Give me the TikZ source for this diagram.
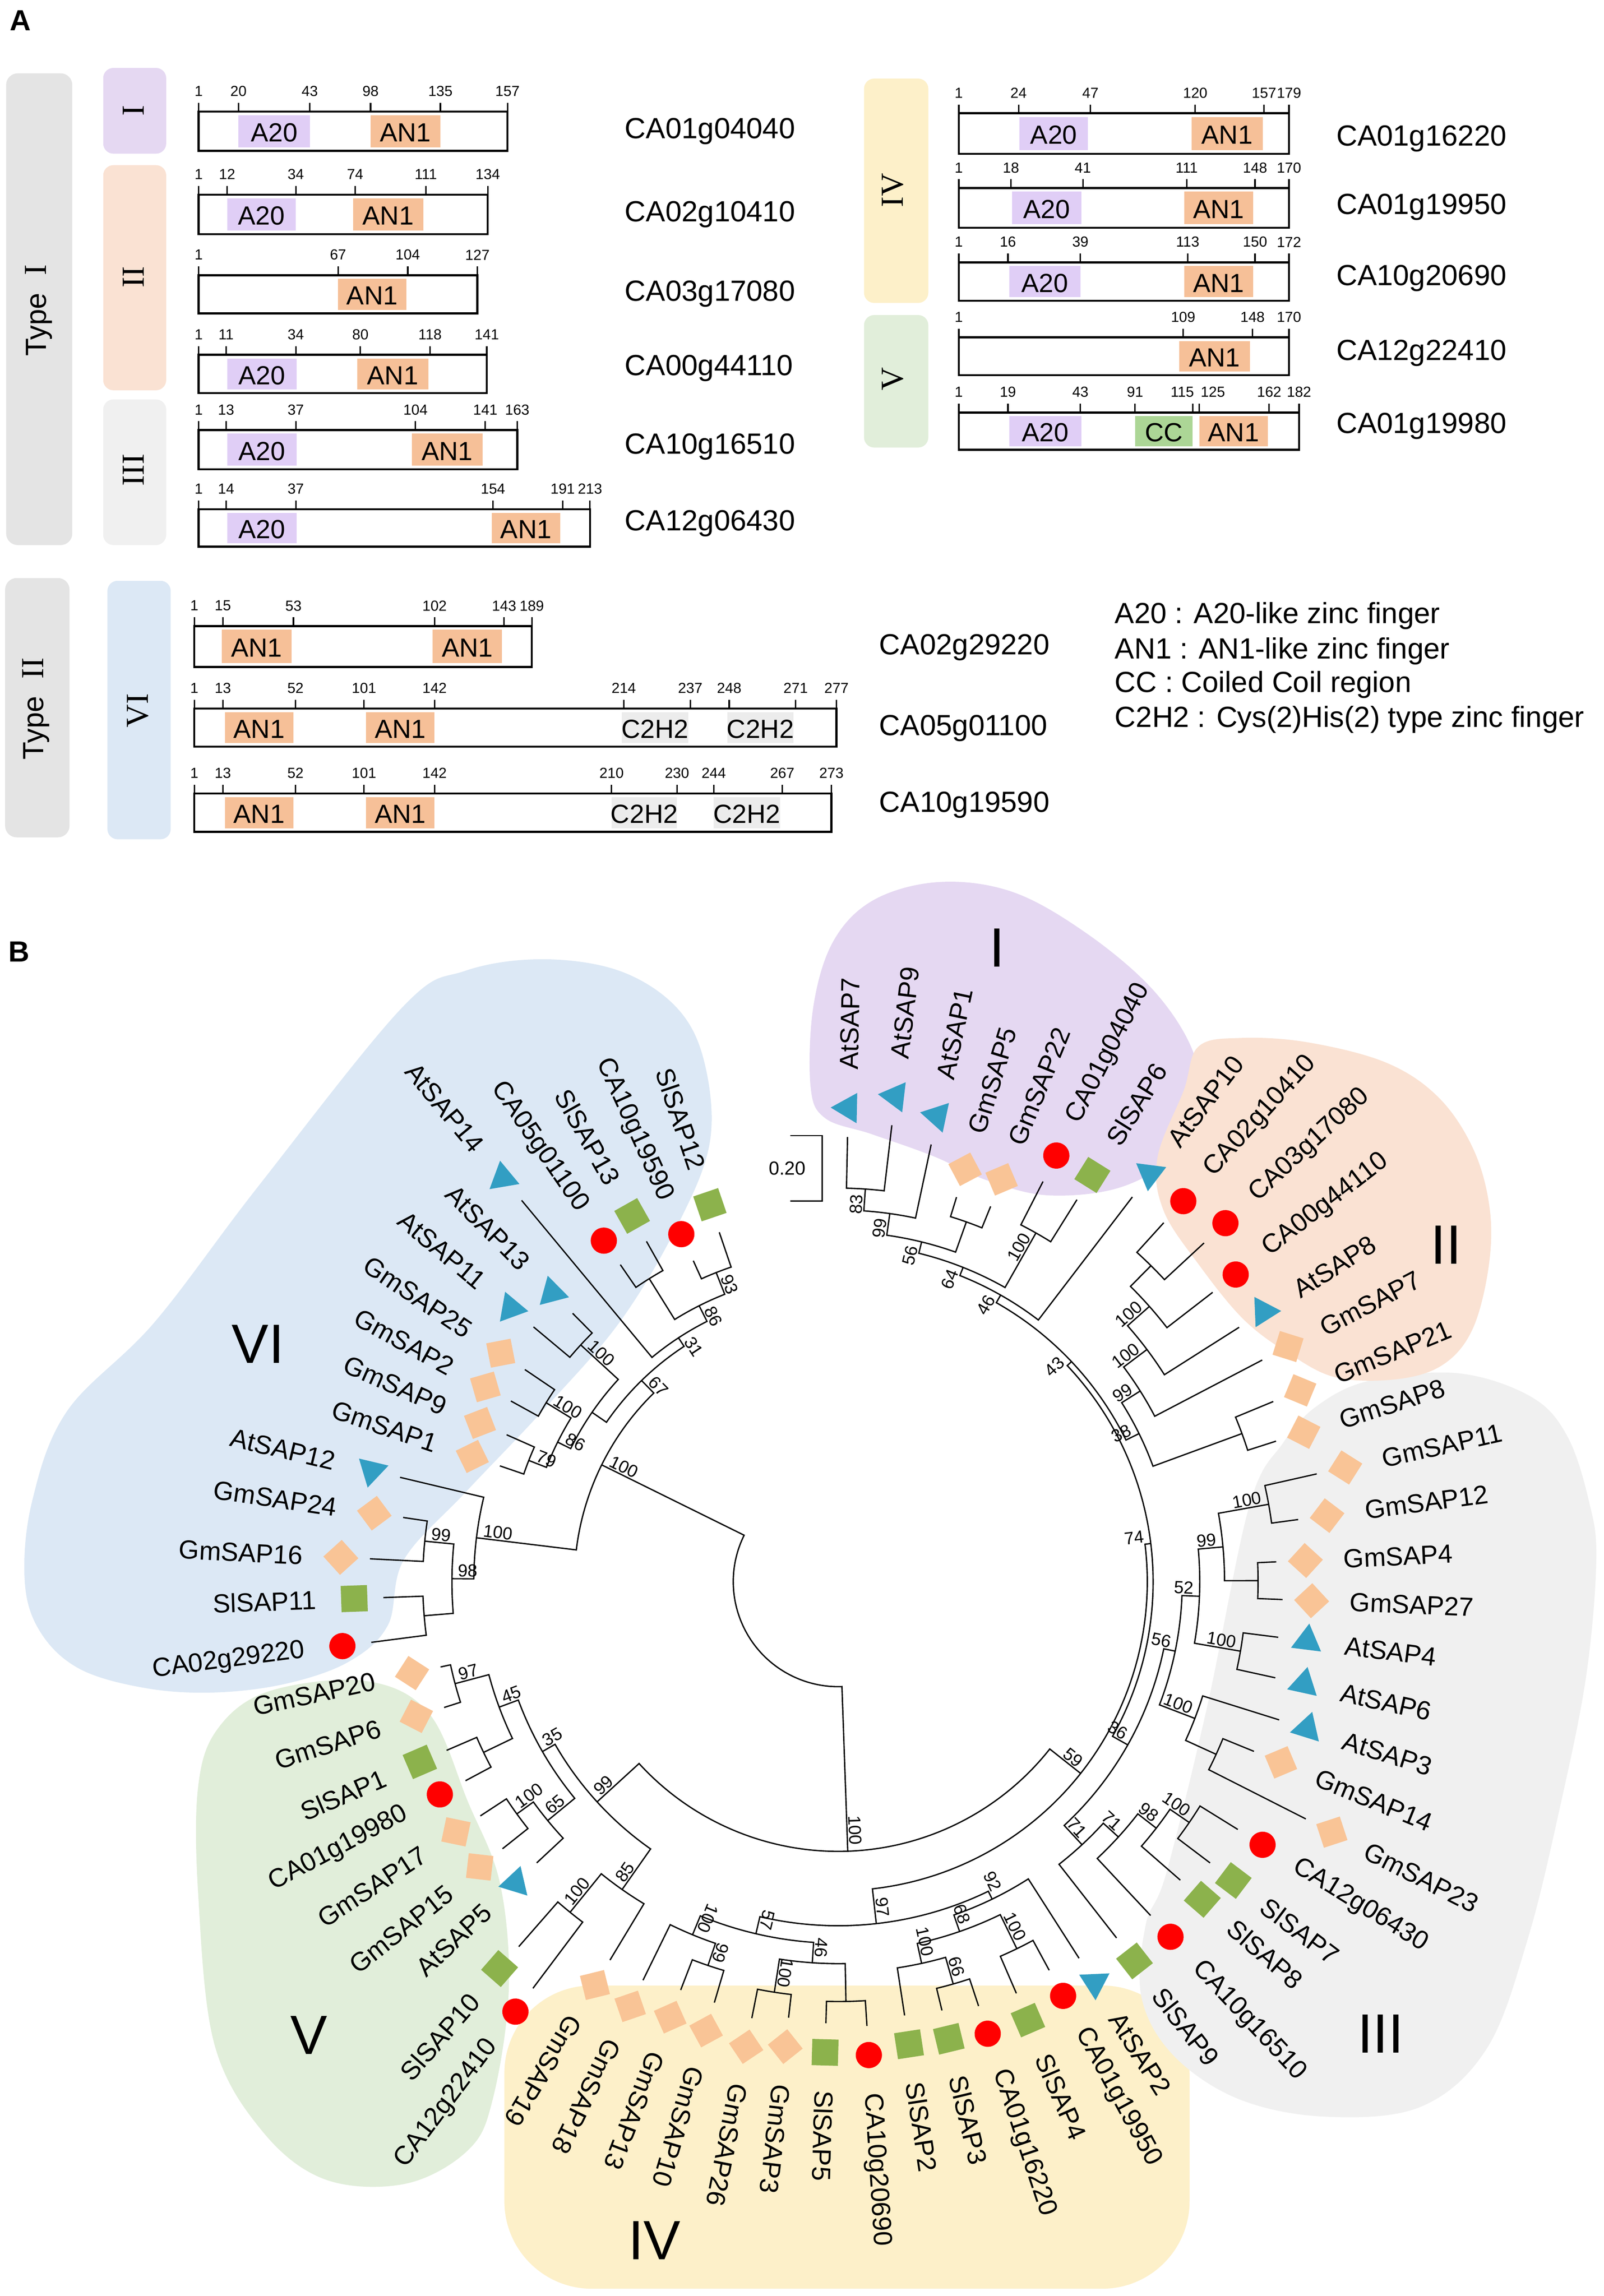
\documentclass[tikz,border=0pt]{standalone}
\usepackage{fontspec}
\setmainfont{Liberation Sans}
\newfontfamily\romnum{Liberation Serif}
\usetikzlibrary{shapes.geometric}

\definecolor{typegray}{RGB}{228,228,228}
\definecolor{grpI}{RGB}{229,216,242}
\definecolor{grpII}{RGB}{250,226,211}
\definecolor{grpIII}{RGB}{240,240,240}
\definecolor{grpIV}{RGB}{253,240,201}
\definecolor{grpV}{RGB}{225,238,218}
\definecolor{grpVI}{RGB}{220,232,245}
\definecolor{colA20}{RGB}{224,206,246}
\definecolor{colAN1}{RGB}{246,192,152}
\definecolor{colCC}{RGB}{172,214,150}
\definecolor{colCzH}{RGB}{236,236,236}
\definecolor{mkred}{RGB}{255,0,0}
\definecolor{mkgreen}{RGB}{140,178,76}
\definecolor{mkpeach}{RGB}{249,196,150}
\definecolor{mkteal}{RGB}{50,158,195}

\tikzset{
  typebar/.style={fill=typegray, rounded corners=8pt},
  typelab/.style={font=\fontsize{20}{22}\selectfont, rotate=90},
  protbox/.style={draw, line width=1.4pt},
  tickline/.style={line width=1pt},
  ticklab/.style={font=\fontsize{10}{11}\selectfont, inner sep=0pt},
  genename/.style={font=\fontsize{20}{22}\selectfont, anchor=west, inner sep=0pt},
  domlab/.style={font=\fontsize{18}{20}\selectfont, inner sep=0pt},
  grplab/.style={font=\romnum\fontsize{22}{24}\selectfont, rotate=90},
  legendtxt/.style={font=\fontsize{20}{22}\selectfont, anchor=west, inner sep=0pt},
  panel/.style={font=\bfseries\fontsize{20}{22}\selectfont},
  branch/.style={line width=0.9pt},
  leaflab/.style={font=\fontsize{18}{20}\selectfont, inner sep=2pt},
  bootlab/.style={font=\fontsize{12}{13}\selectfont, inner sep=1pt},
  cladelab/.style={font=\fontsize{38}{40}\selectfont},
  mkca/.style={circle, fill=mkred, minimum size=18pt, inner sep=0pt},
  mksl/.style={rectangle, fill=mkgreen, minimum size=18pt, inner sep=0pt},
  mkgm/.style={rectangle, fill=mkpeach, minimum size=17pt, inner sep=0pt, rotate=45},
  mkat/.style={regular polygon, regular polygon sides=3, fill=mkteal, minimum size=24pt, inner sep=0pt},
}

% panel A helpers
\newcommand\domain[6]{%
  \fill[#1] (#2,#4+2.5) rectangle (#3,#5-2.5);
  \node[domlab] at ({(#2+#3)/2},{(#4+#5)/2+1}) {#6};}
\newcommand\protein[5]{%
  \foreach \tx/\tl in {#5}{%
    \draw[tickline] (\tx,#3) -- (\tx,#3-6);
    \node[ticklab] at (\tx,#3-14) {\tl};}
  \draw[protbox] (#1,#3) rectangle (#2,#4);}

% panel B helpers
\newcommand\leaf[4]{%
  \expandafter\xdef\csname tang#1\endcsname{#2}%
  \pgfmathsetmacro\tR{#3-20}%
  \expandafter\xdef\csname trad#1\endcsname{\tR}%
  \pgfmathsetmacro\tL{#3+24}%
  \node[mk#4, rotate=#2] (#1) at (#2:#3) {};
  \ifdim #2pt<-124pt
    \pgfmathsetmacro\tF{#2+180}%
    \node[leaflab, anchor=east, rotate=\tF] (#1-t) at (#2:\tL) {#1};
  \else
    \node[leaflab, anchor=west, rotate=#2] (#1-t) at (#2:\tL) {#1};
  \fi}
\newcommand\clade[5]{%
  \edef\tA{\csname tang#3\endcsname}%
  \edef\tB{\csname tang#4\endcsname}%
  \edef\rA{\csname trad#3\endcsname}%
  \edef\rB{\csname trad#4\endcsname}%
  \pgfmathsetmacro\tM{(\tA+\tB)/2}%
  \expandafter\xdef\csname tang#1\endcsname{\tM}%
  \expandafter\xdef\csname trad#1\endcsname{#2}%
  \draw[branch] (\tA:\rA) -- (\tA:#2) arc[start angle=\tA, end angle=\tB, radius=#2] -- (\tB:\rB);
  \coordinate (#1) at (\tM:#2);
  \ifx\relax#5\relax\else
    \pgfmathsetmacro\tS{#2-3}%
    \ifdim \tM pt<-124pt
      \pgfmathsetmacro\tF{\tM+180}%
      \node[bootlab, anchor=south west, rotate=\tF] at (\tM:\tS) {#5};
    \else
      \node[bootlab, anchor=south east, rotate=\tM] at (\tM:\tS) {#5};
    \fi
  \fi}

\begin{document}
\begin{tikzpicture}[x=1pt, y=-1pt]
\useasboundingbox (0,0) rectangle (1100,1575);
\fill[white] (0,0) rectangle (1100,1575);

% ---------------- panel A
\node[panel] (lblA) at (14,14) {A};

\fill[typebar] (4.2,50.3) rectangle (49.6,373.9);
\node[typelab] (typeI) at (26.6,213) {Type\hspace{12pt}{\romnum\fontsize{22}{24}\selectfont I}};
\fill[typebar] (3.5,396.5) rectangle (47.7,574.4);
\node[typelab] (typeII) at (24.6,486) {Type\hspace{12pt}{\romnum\fontsize{22}{24}\selectfont II}};

\fill[grpI, rounded corners=7pt] (70.8,46.6) rectangle (114,105.4);
\node[grplab] (gI) at (91.4,76) {I};
\fill[grpII, rounded corners=7pt] (70.8,113.3) rectangle (114,267.7);
\node[grplab] (gII) at (91.4,190) {II};
\fill[grpIII, rounded corners=7pt] (70.8,274) rectangle (114,373.9);
\node[grplab] (gIII) at (91.4,322.4) {III};
\fill[grpIV, rounded corners=7pt] (592.7,53.9) rectangle (636.8,207.8);
\node[grplab] (gIV) at (612.5,130.5) {IV};
\fill[grpV, rounded corners=7pt] (592.7,216.1) rectangle (636.8,307);
\node[grplab] (gV) at (612.5,260) {V};
\fill[grpVI, rounded corners=7pt] (73.7,398.4) rectangle (117.1,575.7);
\node[grplab] (gVI) at (94.7,487.4) {VI};

\domain{colA20}{163.6}{212.5}{76.5}{103.5}{A20}
\domain{colAN1}{254.2}{302.1}{76.5}{103.5}{AN1}
\protein{136.3}{348.1}{76.5}{103.5}{136.3/1, 163.6/20, 212.5/43, 254.2/98, 302.1/135, 348.1/157}
\node[genename] (p1) at (428.5,90) {CA01g04040};

\domain{colA20}{155.8}{202.9}{133.6}{160.6}{A20}
\domain{colAN1}{242.2}{290.4}{133.6}{160.6}{AN1}
\protein{136.3}{334.6}{133.6}{160.6}{136.3/1, 155.8/12, 202.9/34, 243.6/74, 292.1/111, 334.6/134}
\node[genename] (p2) at (428.5,147) {CA02g10410};

\domain{colAN1}{231.9}{278.7}{188.8}{215}{AN1}
\protein{136.3}{327.5}{188.8}{215}{136.3/1, 231.9/67, 279.7/104, 327.5/127}
\node[genename] (p3) at (428.5,201.5) {CA03g17080};

\domain{colA20}{155.8}{203.6}{243.4}{269.7}{A20}
\domain{colAN1}{245}{293.9}{243.4}{269.7}{AN1}
\protein{136.3}{333.9}{243.4}{269.7}{136.3/1, 155.1/11, 202.9/34, 247.2/80, 295/118, 333.9/141}
\node[genename] (p4) at (428.5,252.5) {CA00g44110};

\domain{colA20}{155.8}{203.6}{295}{322}{A20}
\domain{colAN1}{282.6}{331.1}{295}{322}{AN1}
\protein{136.3}{354.8}{295}{322}{136.3/1, 155.1/13, 202.9/37, 285/104, 332.9/141, 354.8/163}
\node[genename] (p5) at (428.5,306.4) {CA10g16510};

\domain{colA20}{155.8}{203.6}{349.3}{375}{A20}
\domain{colAN1}{337.5}{384.2}{349.3}{375}{AN1}
\protein{136.3}{404.7}{349.3}{375}{136.3/1, 155.1/14, 202.9/37, 338.2/154, 386/191, 404.7/213}
\node[genename] (p6) at (428.5,359) {CA12g06430};

\domain{colA20}{699.4}{746.3}{77.7}{105.5}{A20}
\domain{colAN1}{817.5}{866.1}{77.7}{105.5}{AN1}
\protein{657.7}{884.2}{77.7}{105.5}{657.7/1, 698.7/24, 748/47, 819.9/120, 867.1/157, 884.2/179}
\node[genename] (p7) at (916.5,95) {CA01g16220};

\domain{colA20}{694.2}{741.8}{129}{156.2}{A20}
\domain{colAN1}{812.3}{859.5}{129}{156.2}{AN1}
\protein{657.7}{884.2}{129}{156.2}{657.7/1, 693.5/18, 742.8/41, 814/111, 860.9/148, 884.2/170}
\node[genename] (p8) at (916.5,142) {CA01g19950};

\domain{colA20}{692.4}{741.1}{180}{206.3}{A20}
\domain{colAN1}{812.3}{859.5}{180}{206.3}{AN1}
\protein{657.7}{884.2}{180}{206.3}{657.7/1, 691.4/16, 741.1/39, 814.7/113, 860.9/150, 884.2/172}
\node[genename] (p9) at (916.5,191) {CA10g20690};

\domain{colAN1}{808.8}{857.4}{231.4}{257.3}{AN1}
\protein{657.7}{884.2}{231.4}{257.3}{657.7/1, 811.6/109, 859.2/148, 884.2/170}
\node[genename] (p10) at (916.5,242.2) {CA12g22410};

\domain{colA20}{692.4}{741.8}{283}{308.6}{A20}
\domain{colCC}{778.6}{818.2}{283}{308.6}{CC}
\domain{colAN1}{822.7}{869.6}{283}{308.6}{AN1}
\protein{657.7}{891.1}{283}{308.6}{657.7/1, 691.4/19, 741.1/43, 778.6/91, 818.2/{}, 822.7/{}, 870.6/162, 891.1/182}
\node[ticklab] (t115) at (811,269) {115};
\node[ticklab] (t125) at (832,269) {125};
\node[genename] (p11) at (916.5,292.4) {CA01g19980};

\domain{colAN1}{152.2}{199.9}{429.5}{457.5}{AN1}
\domain{colAN1}{296.7}{344.4}{429.5}{457.5}{AN1}
\protein{133.3}{364.8}{429.5}{457.5}{133.3/1, 152.9/15, 201.3/53, 298.1/102, 345.8/143, 364.8/189}
\node[genename] (p12) at (603,444) {CA02g29220};

\domain{colAN1}{154.3}{201.3}{486.1}{512.2}{AN1}
\domain{colAN1}{251.1}{298.1}{486.1}{512.2}{AN1}
\domain{colCzH}{426.5}{472.1}{486.1}{512.2}{C2H2}
\domain{colCzH}{498.8}{544.4}{486.1}{512.2}{C2H2}
\protein{133.3}{573.8}{486.1}{512.2}{133.3/1, 152.9/13, 202.7/52, 249.7/101, 298.1/142, 427.9/214, 473.5/237, 500.2/248, 545.8/271, 573.8/277}
\node[genename] (p13) at (603,499.4) {CA05g01100};

\domain{colAN1}{154.3}{201.3}{544.3}{570.6}{AN1}
\domain{colAN1}{251.1}{298.1}{544.3}{570.6}{AN1}
\domain{colCzH}{419.5}{464.4}{544.3}{570.6}{C2H2}
\domain{colCzH}{489.6}{535.2}{544.3}{570.6}{C2H2}
\protein{133.3}{570.3}{544.3}{570.6}{133.3/1, 152.9/13, 202.7/52, 249.7/101, 298.1/142, 419.5/210, 464.4/230, 489.6/244, 536.6/267, 570.3/273}
\node[genename] (p14) at (603,552.2) {CA10g19590};

\node[legendtxt] (leg1) at (764.6,422.5) {A20 : A20-like zinc finger};
\node[legendtxt] (leg2) at (764.6,446.7) {AN1 : AN1-like zinc finger};
\node[legendtxt] (leg3) at (764.6,469.6) {CC : Coiled Coil region};
\node[legendtxt] (leg4) at (764.6,493.7) {C2H2 : Cys(2)His(2) type zinc finger};

% ---------------- panel B
\node[panel] (lblB) at (13,653) {B};

\fill[grpVI] plot[smooth cycle, tension=0.6] coordinates {(17,1085) (22,1030) (46,968) (106,907) (177,814) (276,691) (319,666) (372,658) (425,666) (464,691) (483,728) (487,783) (465,840) (425,907) (372,968) (319,1024) (277,1070) (266,1115) (239,1140) (196,1155) (147,1161) (100,1158) (55,1145) (28,1120)};
\fill[grpIV, rounded corners=60pt] (346,1362) rectangle (816,1570);
\fill[grpV] plot[smooth cycle, tension=0.6] coordinates {(136,1225) (150,1185) (185,1160) (250,1153) (294,1175) (321,1236) (343,1292) (349,1365) (338,1440) (321,1475) (278,1498) (223,1495) (180,1462) (147,1402) (136,1300)};
\fill[grpIII] plot[smooth cycle, tension=0.6] coordinates {(904,964) (940,947) (1000,942) (1050,958) (1075,985) (1090,1030) (1095,1070) (1088,1150) (1070,1240) (1048,1330) (1020,1405) (975,1445) (910,1452) (850,1440) (805,1410) (783,1370) (786,1320) (800,1285) (828,1171) (857,1033) (880,990)};
\fill[grpI] plot[smooth cycle, tension=0.6] coordinates {(556,745) (558,690) (572,645) (600,617) (645,605) (695,612) (745,640) (790,678) (817,718) (822,752) (808,790) (770,814) (720,820) (678,810) (640,793) (598,778) (566,767)};
\fill[grpII] plot[smooth cycle, tension=0.6] coordinates {(812,748) (822,718) (851,712) (897,715) (951,729) (987,753) (1011,789) (1022,830) (1021,870) (1010,912) (990,936) (959,946) (917,945) (885,929) (853,905) (822,867) (798,830) (794,794)};

\node[cladelab] (cI) at (684,650) {I};
\node[cladelab] (cII) at (992,854) {II};
\node[cladelab] (cIII) at (947,1395) {III};
\node[cladelab] (cIV) at (449,1537) {IV};
\node[cladelab] (cV) at (212,1396) {V};
\node[cladelab] (cVI) at (177,922) {VI};

\draw[branch] (542,779) -- (564,779) -- (564,824) -- (542,824);
\node[bootlab, font=\fontsize{13}{14}\selectfont] (scale) at (540,801.5) {0.20};

\begin{scope}[shift={(575,1085)}, y=1pt]
\leaf{AtSAP7}{88.8}{325.1}{at}
\leaf{AtSAP9}{83.3}{335.3}{at}
\leaf{AtSAP1}{78.0}{326.6}{at}
\leaf{GmSAP5}{72.9}{296}{gm}
\leaf{GmSAP22}{67.9}{297.9}{gm}
\leaf{CA01g04040}{62.9}{328.4}{ca}
\leaf{SlSAP6}{58.0}{329}{sl}
\leaf{AtSAP10}{52.6}{352.2}{at}
\leaf{CA02g10410}{47.8}{352.4}{ca}
\leaf{CA03g17080}{42.8}{362}{ca}
\leaf{CA00g44110}{37.7}{344.6}{ca}
\leaf{AtSAP8}{32.4}{345.7}{at}
\leaf{GmSAP7}{27.6}{348.2}{gm}
\leaf{GmSAP21}{22.5}{343}{gm}
\leaf{GmSAP8}{17.8}{335.4}{gm}
\leaf{GmSAP11}{12.7}{356.5}{gm}
\leaf{GmSAP12}{7.7}{338.4}{gm}
\leaf{GmSAP4}{2.6}{320.8}{gm}
\leaf{GmSAP27}{-2.3}{325}{gm}
\leaf{AtSAP4}{-7.2}{324.2}{at}
\leaf{AtSAP6}{-12.4}{327}{at}
\leaf{AtSAP3}{-17.4}{337}{at}
\leaf{GmSAP14}{-22.2}{328}{gm}
\leaf{GmSAP23}{-26.9}{379.7}{gm}
\leaf{CA12g06430}{-31.8}{342.5}{ca}
\leaf{SlSAP7}{-37.1}{339.8}{sl}
\leaf{SlSAP8}{-41.1}{331.4}{sl}
\leaf{CA10g16510}{-46.9}{333.6}{ca}
\leaf{SlSAP9}{-52}{330.1}{sl}
\leaf{AtSAP2}{-57.4}{326.6}{at}
\leaf{CA01g19950}{-61.5}{323.3}{ca}
\leaf{SlSAP4}{-66.6}{327.7}{sl}
\leaf{CA01g16220}{-71.7}{326.6}{ca}
\leaf{SlSAP3}{-76.4}{322.6}{sl}
\leaf{SlSAP2}{-81.3}{321}{sl}
\leaf{CA10g20690}{-86.3}{325.4}{ca}
\leaf{SlSAP5}{-91.6}{323}{sl}
\leaf{GmSAP3}{-96.5}{321}{gm}
\leaf{GmSAP26}{-101.2}{325.2}{gm}
\leaf{GmSAP10}{-106.4}{321}{gm}
\leaf{GmSAP13}{-111.1}{320.2}{gm}
\leaf{GmSAP18}{-116.1}{324.4}{gm}
\leaf{GmSAP19}{-121.1}{323.1}{gm}
\leaf{CA12g22410}{-126.9}{368.8}{ca}
\leaf{SlSAP10}{-131.2}{352.7}{sl}
\leaf{AtSAP5}{-137}{302.8}{at}
\leaf{GmSAP15}{-141.5}{314.3}{gm}
\leaf{GmSAP17}{-146.8}{313.4}{gm}
\leaf{CA01g19980}{-151.9}{309.8}{ca}
\leaf{SlSAP1}{-156.7}{312.5}{sl}
\leaf{GmSAP6}{-162.3}{303.8}{gm}
\leaf{GmSAP20}{-167.9}{299}{gm}
\leaf{CA02g29220}{-172.6}{343}{ca}
\leaf{SlSAP11}{-178}{332.2}{sl}
\leaf{GmSAP16}{-182.8}{341.6}{gm}
\leaf{GmSAP24}{-188.4}{321.7}{gm}
\leaf{AtSAP12}{-193.4}{329}{at}
\leaf{GmSAP1}{-198.9}{265.3}{gm}
\leaf{GmSAP9}{-203.9}{268.8}{gm}
\leaf{GmSAP2}{-208.9}{276.5}{gm}
\leaf{GmSAP25}{-214.1}{279.6}{gm}
\leaf{AtSAP11}{-219.9}{292.5}{at}
\leaf{AtSAP13}{-225.3}{279}{at}
\leaf{AtSAP14}{-230.3}{360}{at}
\leaf{CA05g01100}{-235.5}{283.9}{ca}
\leaf{SlSAP13}{-240.6}{288}{sl}
\leaf{CA10g19590}{-245.7}{261.6}{ca}
\leaf{SlSAP12}{-251.2}{273.2}{sl}

\clade{w1}{228}{CA10g19590}{SlSAP12}{93}
\clade{w2}{245}{CA05g01100}{SlSAP13}{}
\clade{w3}{212}{w2}{w1}{86}
\clade{w4}{200}{AtSAP14}{w3}{31}
\clade{w5}{240}{AtSAP11}{AtSAP13}{100}
\clade{w6}{235}{GmSAP25}{GmSAP2}{100}
\clade{w7}{228}{GmSAP9}{GmSAP1}{79}
\clade{w8}{215}{w6}{w7}{86}
\clade{w9}{205}{w8}{w5}{}
\clade{w10}{193}{w9}{w4}{67}
\clade{x3}{285}{GmSAP24}{GmSAP16}{99}
\clade{x4}{285}{SlSAP11}{CA02g29220}{}
\clade{x2}{265}{x3}{x4}{98}
\clade{x1}{250}{AtSAP12}{x2}{100}
\clade{VI}{181}{w10}{x1}{100}

\clade{v1}{272}{GmSAP20}{GmSAP6}{97}
\clade{v2}{270}{SlSAP1}{CA01g19980}{}
\clade{v3}{248}{v1}{v2}{45}
\clade{v4}{272}{GmSAP15}{GmSAP17}{100}
\clade{v5}{258}{v4}{AtSAP5}{65}
\clade{v6}{234}{v3}{v5}{35}
\clade{v7}{292}{CA12g22410}{SlSAP10}{100}
\clade{W}{258}{v7}{GmSAP19}{85}
\clade{L}{224}{v6}{W}{99}

\clade{s1}{280}{CA01g19950}{SlSAP4}{100}
\clade{s2}{287}{CA01g16220}{SlSAP3}{66}
\clade{s3}{268}{s2}{SlSAP2}{100}
\clade{s4}{254}{s1}{s3}{68}
\clade{s5}{242}{AtSAP2}{s4}{92}
\clade{s6}{288}{CA10g20690}{SlSAP5}{}
\clade{s7}{285}{GmSAP3}{GmSAP26}{100}
\clade{s8}{262}{s6}{s7}{46}
\clade{s9}{278}{GmSAP10}{GmSAP13}{99}
\clade{s10}{262}{s9}{GmSAP18}{100}
\clade{s11}{248}{s8}{s10}{57}
\clade{s12}{236}{s5}{s11}{97}

\clade{q1}{300}{GmSAP11}{GmSAP12}{100}
\clade{q3}{288}{GmSAP4}{GmSAP27}{}
\clade{q4}{265}{q1}{q3}{99}
\clade{q5}{280}{AtSAP4}{AtSAP6}{100}
\clade{q6}{248}{q4}{q5}{52}
\clade{q7}{285}{GmSAP14}{GmSAP23}{}
\clade{q8}{262}{AtSAP3}{q7}{100}
\clade{q9}{236}{q6}{q8}{56}
\clade{q10}{292}{CA12g06430}{SlSAP7}{100}
\clade{q11}{276}{q10}{SlSAP8}{98}
\clade{q12}{260}{q11}{CA10g16510}{71}
\clade{q13}{246}{q12}{SlSAP9}{71}
\clade{q14}{228}{q9}{q13}{36}

\clade{n1}{270}{AtSAP7}{AtSAP9}{83}
\clade{n2}{255}{n1}{AtSAP1}{99}
\clade{n3}{262}{GmSAP5}{GmSAP22}{}
\clade{n4}{240}{n2}{n3}{56}
\clade{n5}{275}{CA01g04040}{SlSAP6}{100}
\clade{n6}{232}{n4}{n5}{64}
\clade{n7}{226}{n6}{AtSAP10}{46}
\clade{m1}{305}{CA02g10410}{CA03g17080}{}
\clade{m2}{285}{m1}{CA00g44110}{100}
\clade{m3}{265}{m2}{AtSAP8}{100}
\clade{m4}{245}{m3}{GmSAP7}{99}
\clade{p1}{295}{GmSAP21}{GmSAP8}{}
\clade{k1}{230}{m4}{p1}{38}
\clade{k2}{220}{n7}{k1}{43}
\clade{big}{216}{k2}{q14}{74}
\clade{R}{212}{big}{s12}{59}
\clade{rest}{185}{L}{R}{100}
\clade{root}{72}{VI}{rest}{}
\end{scope}
\end{tikzpicture}
\end{document}
